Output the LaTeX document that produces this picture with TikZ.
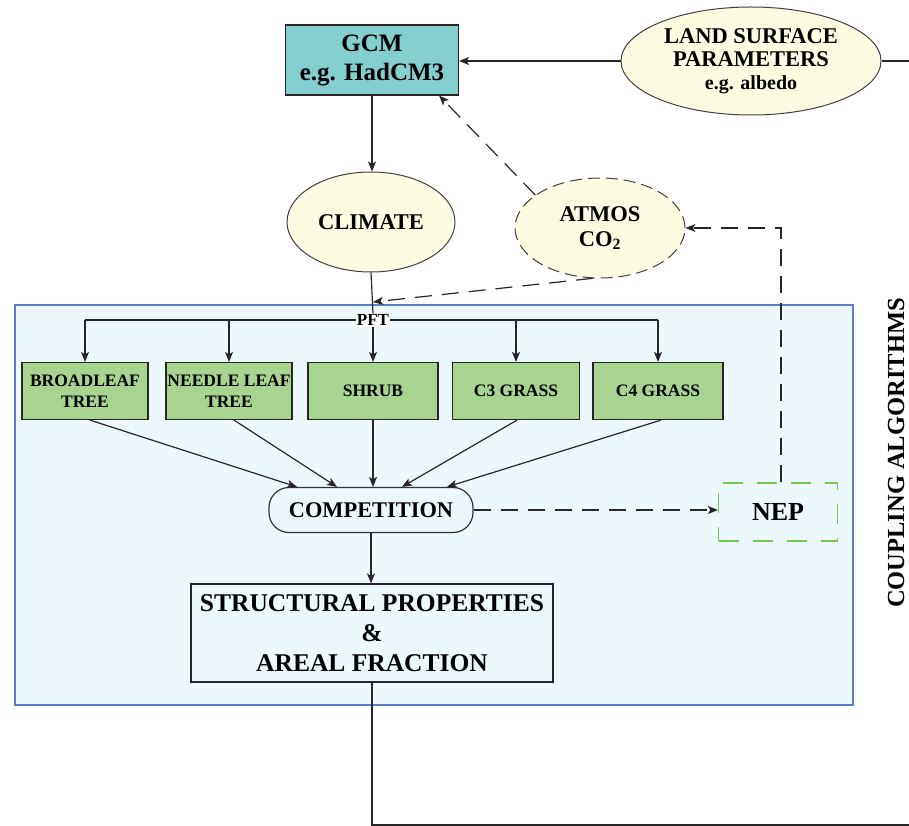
\documentclass[tikz,border=0pt]{standalone}
\usepackage{fontspec}
\setmainfont{Liberation Serif}
\usetikzlibrary{shapes.geometric,arrows.meta,calc}
\definecolor{gcmteal}{RGB}{131,207,205}
\definecolor{ellyellow}{RGB}{253,252,226}
\definecolor{pftgreen}{RGB}{168,212,143}
\definecolor{bluefill}{RGB}{237,248,253}
\definecolor{bluebd}{RGB}{91,126,198}
\definecolor{nepgreen}{RGB}{120,198,84}
\newcommand{\fsz}[2]{\fontsize{#1}{#2}\selectfont\bfseries}
\begin{document}
\begin{tikzpicture}[x=1pt,y=-1pt,>={Stealth[length=10pt,width=8pt,inset=2.5pt]}]
\useasboundingbox (0,0) rectangle (909,826);
\tikzset{
  ell/.style={ellipse, draw=black!75, fill=ellyellow, inner sep=0pt, align=center, line width=1pt},
  pftbox/.style={draw=black!85, fill=pftgreen, inner sep=0pt, minimum height=57, align=center, line width=1.2pt, font=\fsz{17.5}{21}},
  conn/.style={draw=black!85, line width=1.2pt},
  dconn/.style={conn, dash pattern=on 17pt off 10pt},
}
% frame
\node[draw=bluebd, fill=bluefill, line width=2.5pt, minimum width=838, minimum height=400, inner sep=0pt] (frame) at (434,505) {};
% top nodes
\node[draw=black!85, fill=gcmteal, line width=1.2pt, minimum width=173, minimum height=70, inner sep=0pt, align=center, font=\fsz{25}{29}] (gcm) at (372,60) {GCM\\e.g. HadCM3};
\node[ell, minimum width=260, minimum height=108, font=\fsz{22.5}{23}] (land) at (751,61) {LAND SURFACE\\PARAMETERS\\{\fsz{20}{22}e.g. albedo}};
\node[ell, minimum width=168, minimum height=100, font=\fsz{22.5}{25}] (climate) at (371,222) {CLIMATE};
\node[ell, dash pattern=on 12pt off 6pt, minimum width=170, minimum height=100, font=\fsz{22.5}{25}] (atmos) at (600,228) {ATMOS\\CO\textsubscript{2}};
% PFT
\node[fill=white, inner sep=1pt, font=\fsz{17}{19}] (pft) at (373,320) {PFT};
\node[pftbox, minimum width=126] (bl) at (85,391) {BROADLEAF\\TREE};
\node[pftbox, minimum width=126] (nl) at (229,391) {NEEDLE LEAF\\TREE};
\node[pftbox, minimum width=130] (sh) at (373,391) {SHRUB};
\node[pftbox, minimum width=127] (c3) at (516,391) {C3 GRASS};
\node[pftbox, minimum width=130] (c4) at (658,391) {C4 GRASS};
% lower nodes
\node[draw=black!80, fill=bluefill, rounded corners=20pt, line width=1.2pt, minimum width=204, minimum height=45, inner sep=0pt, font=\fsz{22.4}{25}] (comp) at (371,510) {COMPETITION};
\node[draw=nepgreen, dash pattern=on 20pt off 14pt, line width=1.3pt, minimum width=119, minimum height=58, inner sep=0pt, font=\fsz{26}{28}] (nep) at (778,512) {NEP};
\node[draw=black!85, fill=bluefill, line width=1.2pt, minimum width=362, minimum height=98, inner sep=0pt, align=center, font=\fsz{25.5}{30}] (struct) at (372,633) {STRUCTURAL PROPERTIES\\\&\\AREAL FRACTION};
\node[rotate=90, inner sep=0pt, font=\fsz{24.5}{27}] (coupling) at (896,453) {COUPLING ALGORITHMS};
% coordinates
\coordinate (edge1) at (909,61);
\coordinate (edge2) at (909,825);
\coordinate (co2in) at (373,302);
% connectors
\draw[conn,->] (land.west) -- (land.west -| gcm.east);
\draw[conn] (land.east) -- (edge1);
\draw[conn,->] (gcm.south) -- (gcm.south |- climate.north);
\draw[dconn,->] (atmos.153) -- ($(gcm.south east)+(-20,0)$);
\draw[dconn,->] (atmos.262) -- (co2in);
\draw[conn] (climate.south) -- (pft.north);
\draw[conn,->] (pft.south) -- (sh.north);
\draw[conn] (bl.north |- pft) -- (pft.west);
\draw[conn] (pft.east) -- (c4.north |- pft);
\draw[conn,->] (bl.north |- pft) -- (bl.north);
\draw[conn,->] (nl.north |- pft) -- (nl.north);
\draw[conn,->] (c3.north |- pft) -- (c3.north);
\draw[conn,->] (c4.north |- pft) -- (c4.north);
\draw[conn,->] ($(bl.south)+(5,0)$) -- ($(comp.north)+(-74,0)$);
\draw[conn,->] ($(nl.south)+(5,0)$) -- ($(comp.north)+(-34,0)$);
\draw[conn,->] (sh.south) -- (sh.south |- comp.north);
\draw[conn,->] ($(c3.south)+(1,0)$) -- ($(comp.north)+(31,0)$);
\draw[conn,->] ($(c4.south)+(3,0)$) -- ($(comp.north)+(76,0)$);
\draw[dconn,->] (comp.east) -- (comp.east -| nep.west);
\draw[dconn,->] ($(nep.north)+(3,0)$) |- (atmos.east);
\draw[conn,->] (comp.south) -- (comp.south |- struct.north);
\draw[conn] (struct.south) |- (edge2);
\end{tikzpicture}
\end{document}
